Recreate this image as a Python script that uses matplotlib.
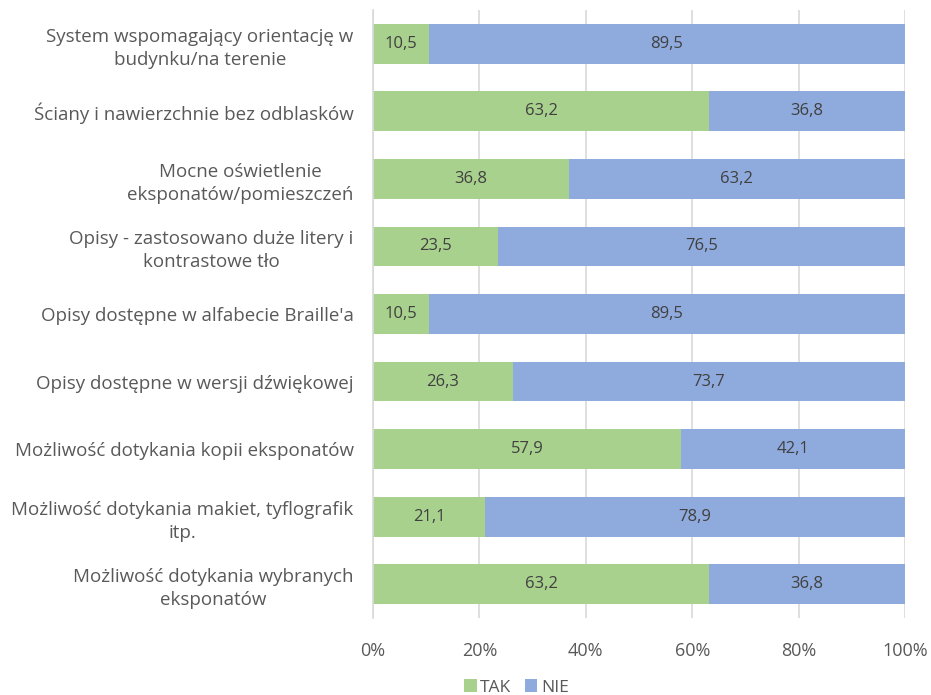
import numpy as np
import matplotlib.pyplot as plt
from matplotlib.ticker import PercentFormatter

plt.rcParams['font.family'] = ['Open Sans', 'DejaVu Sans']

categories = [
    "System wspomagający orientację w\nbudynku/na terenie",
    "Ściany i nawierzchnie bez odblasków",
    "Mocne oświetlenie\neksponatów/pomieszczeń",
    "Opisy - zastosowano duże litery i\nkontrastowe tło",
    "Opisy dostępne w alfabecie Braille'a",
    "Opisy dostępne w wersji dźwiękowej",
    "Możliwość dotykania kopii eksponatów",
    "Możliwość dotykania makiet, tyflografik\nitp.",
    "Możliwość dotykania wybranych\neksponatów",
]
tak = [10.5, 63.2, 36.8, 23.5, 10.5, 26.3, 57.9, 21.1, 63.2]
nie = [89.5, 36.8, 63.2, 76.5, 89.5, 73.7, 42.1, 78.9, 36.8]

txt = '#595959'
fig = plt.figure(figsize=(9.31, 6.95), dpi=100)
ax = fig.add_axes([0.4006, 0.1108, 0.5715, 0.8748])

y = np.arange(len(categories))
b1 = ax.barh(y, tak, height=0.59, color='#A9D18E', label='TAK', zorder=2)
b2 = ax.barh(y, nie, left=tak, height=0.59, color='#8FAADC', label='NIE', zorder=2)

for vals, lefts in [(tak, [0] * len(tak)), (nie, tak)]:
    for v, l, yy in zip(vals, lefts, y):
        ax.text(l + v / 2, yy, f"{v:.1f}".replace('.', ','), ha='center', va='center',
                fontsize=12, color='#404040', zorder=3)

ax.set_xlim(0, 100)
ax.set_ylim(len(categories) - 0.5, -0.5)
ax.set_yticks(y)
ax.set_yticklabels(categories, fontsize=13.5, color=txt, multialignment='center',
                   linespacing=1.35)
ax.set_xticks(np.arange(0, 101, 20))
ax.xaxis.set_major_formatter(PercentFormatter(decimals=0))
ax.tick_params(axis='x', labelsize=13, colors=txt, length=0, pad=17)
ax.tick_params(axis='y', length=0, pad=14)
ax.grid(axis='x', color='#D9D9D9', linewidth=1.2, zorder=0)
for s in ['top', 'right', 'bottom']:
    ax.spines[s].set_visible(False)
ax.spines['left'].set_color('#D9D9D9')
ax.spines['left'].set_linewidth(1.2)

ax.legend(loc='upper center', bbox_to_anchor=(0.27, -0.084), ncol=2, frameon=False,
          fontsize=12.5, labelcolor=txt, handlelength=0.7, handleheight=0.7,
          handletextpad=0.2, columnspacing=0.8, borderpad=0.1)

plt.savefig('out.png', dpi=100)
